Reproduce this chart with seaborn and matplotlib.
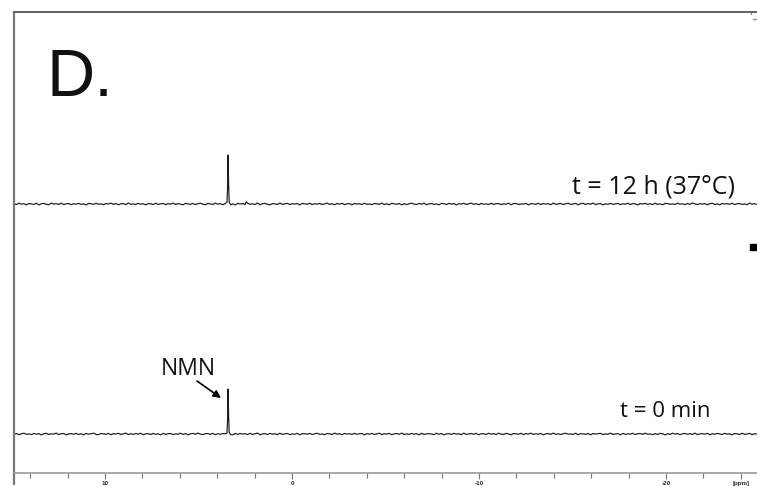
import numpy as np
import pandas as pd
import matplotlib
matplotlib.use("Agg")
import matplotlib.pyplot as plt
import seaborn as sns

# ---------------- data ----------------
ppm_range = (14.87, -24.87)          # x axis limits (ppm, reversed)
peak_ppm = [3.56, 3.48, 3.45, 3.42, 3.39, 3.36, 3.28]   # NMN signal sample positions
peak_12h = [0.6, 1.5, 14.0, 49.0, 20.0, 2.0, -0.8]      # intensity, t = 12 h
peak_0 = [0.3, 0.8, 12.0, 45.0, 18.0, 1.5, -0.6]        # intensity, t = 0 min
bump_ppm = [2.45]                     # small side bump in 12 h trace
bump_12h = [2.2]
offset_12h = 269                     # vertical offsets of stacked spectra
offset_0 = 39

noise_12h = [
    0.4, -0.6, 0.9, -0.2, 0.3, -0.8, 0.5, 0.1, -0.4, 0.7, -0.9, 0.2, 0.6, -0.3, -0.7, 0.8, -0.1, 0.4, -0.5, 0.9,
    -0.6, 0.2, 0.5, -0.8, 0.3, -0.2, 0.7, -0.4, 0.1, -0.9, 0.6, 0.3, -0.5, 0.8, -0.3, 0.2, -0.7, 0.5, -0.1, 0.9,
    -0.4, 0.6, -0.8, 0.2, 0.4, -0.6, 1.0, -0.3, 0.1, -0.5, 0.7, -0.2, 0.3, -0.9, 0.5, 0.2, -0.6, 0.8, -0.4, 0.1,
    0.6, -0.7, 0.3, -0.2, 0.9, -0.5, 0.4, -0.1, -0.8, 0.7, 0.2, -0.4, 0.5, -0.6, 0.3, 0.8, -0.3, -0.7, 0.6, 0.1,
    -0.5, 0.9, -0.2, 0.4, -0.8, 0.3, 0.6, -0.4, 0.2, -0.9, 0.7, -0.1, 0.5, -0.6, 0.8, -0.3, 0.2, -0.5, 1.0, -0.7,
    0.3, 0.6, -0.2, -0.8, 0.4, 0.1, -0.5, 0.9, -0.4, 0.2, 0.7, -0.6, 0.3, -0.1, 0.5, -0.9, 0.6, 0.2, -0.3, 0.8,
    -0.7, 0.4, -0.2, 0.6, -0.5, 0.1, 0.9, -0.4, 0.3, -0.8, 0.5, -0.2, 0.7, -0.6, 0.2, 0.4, -0.9, 0.6, -0.1, 0.3,
    -0.5, 0.8, -0.3, 0.1, -0.7, 0.5, 0.2, -0.4, 0.9, -0.6, 0.3, -0.8, 0.7, 0.1, -0.2, 0.5, -0.9, 0.4, -0.6, 0.2,
    0.8, -0.1, -0.5, 0.6, -0.3, 0.9, -0.7, 0.2, 0.4, -0.4, 0.1, -0.8, 0.6, 0.3, -0.6, 0.7, -0.2, 0.5, -0.9, 0.3,
    -0.1, 0.7, -0.5, 0.2, 0.9, -0.3, 0.4, -0.8, 0.6, -0.2, 0.1, -0.6, 0.8, -0.4, 0.3, 0.5, -0.7, 0.2, -0.3, 0.9,
    -0.8, 0.3, 0.6, -0.5, 0.1, -0.2, 0.7, -0.9, 0.4, 0.2, -0.4, 0.8, -0.6, 0.5, -0.1, 0.3, -0.7, 0.9, -0.3, 0.1,
    0.5, -0.6, 0.2, 0.8, -0.4, -0.1, 0.6, -0.8, 0.3, 0.7, -0.5, 0.4, -0.2, 0.9, -0.6, 0.1, 0.5, -0.9, 0.2, -0.3,
    0.7, -0.4, 0.1, 0.6, -0.7, 0.3, -0.2, 0.8, -0.5, 0.4, 0.2, -0.9, 0.5, -0.1, 0.7, -0.3, 0.3, -0.6, 0.9, -0.4,
    0.2, -0.8, 0.6, 0.4, -0.3, 0.1, -0.5, 0.8, -0.2, 0.3, -0.7, 0.6, -0.4, 0.9, 0.1, -0.6, 0.4, -0.2, 0.5, -0.8,
    0.3, 0.7, -0.5, 0.2, -0.9, 0.6, -0.1, 0.4, -0.3, 0.8, -0.6, 0.2, 0.5, -0.4, 0.1, -0.7, 0.9, -0.2, 0.3, -0.5,
]
noise_0 = [
    -0.3, 0.5, -0.7, 0.2, 0.8, -0.4, 0.1, -0.6, 0.6, -0.2, 0.4, -0.9, 0.3, 0.7, -0.5, 0.2, -0.1, 0.9, -0.6, 0.3,
    0.5, -0.8, 0.1, 0.4, -0.3, 0.7, -0.5, 0.2, -0.9, 0.6, -0.2, 0.3, 0.8, -0.4, -0.7, 0.5, 0.1, -0.3, 0.6, -0.8,
    0.4, -0.1, 0.7, -0.5, 0.2, 0.9, -0.6, 0.3, -0.4, 0.5, -0.2, 0.8, -0.7, 0.1, 0.4, -0.5, 0.6, -0.3, 0.2, -0.9,
    0.7, -0.4, 0.3, 0.5, -0.6, 0.1, -0.2, 0.8, -0.5, 0.4, -0.8, 0.2, 0.6, -0.3, 0.9, -0.1, -0.6, 0.3, 0.5, -0.4,
    0.7, -0.7, 0.2, -0.2, 0.4, -0.5, 0.8, 0.1, -0.9, 0.6, -0.3, 0.5, -0.1, 0.3, -0.6, 0.7, -0.4, 0.2, 0.9, -0.8,
    0.1, 0.4, -0.5, 0.6, -0.2, 0.3, -0.7, 0.8, -0.4, 0.2, 0.5, -0.6, 0.1, -0.3, 0.7, -0.9, 0.4, 0.3, -0.2, 0.6,
    -0.5, 0.2, 0.8, -0.4, 0.1, -0.7, 0.5, 0.3, -0.6, 0.9, -0.2, 0.4, -0.8, 0.6, -0.1, 0.3, -0.5, 0.7, -0.3, 0.2,
    0.5, -0.9, 0.4, -0.2, 0.6, -0.4, 0.1, 0.8, -0.6, 0.3, -0.1, 0.6, -0.7, 0.2, 0.5, -0.3, 0.9, -0.5, 0.1, -0.4,
    0.6, -0.2, 0.3, -0.8, 0.7, -0.5, 0.2, 0.4, -0.1, -0.6, 0.8, -0.3, 0.5, -0.9, 0.1, 0.4, -0.4, 0.7, -0.2, 0.3,
    -0.7, 0.9, -0.4, 0.1, 0.5, -0.3, 0.6, -0.8, 0.2, 0.3, -0.5, 0.7, -0.1, 0.4, -0.6, 0.8, -0.2, -0.4, 0.6, 0.1,
    -0.9, 0.5, 0.2, -0.3, 0.7, -0.6, 0.4, -0.1, 0.8, -0.5, 0.3, -0.2, 0.6, -0.8, 0.1, 0.5, -0.4, 0.9, -0.3, 0.2,
    -0.6, 0.4, 0.7, -0.2, 0.1, -0.5, 0.8, -0.7, 0.3, 0.2, -0.4, 0.6, -0.9, 0.5, -0.1, 0.3, 0.7, -0.6, 0.2, -0.3,
    0.9, -0.5, 0.1, 0.4, -0.8, 0.6, -0.3, 0.2, -0.1, 0.7, -0.6, 0.3, 0.5, -0.4, 0.8, -0.2, 0.1, -0.7, 0.4, -0.5,
    0.6, 0.2, -0.9, 0.3, -0.4, 0.8, -0.1, 0.5, -0.7, 0.2, 0.6, -0.3, 0.4, -0.5, 0.9, -0.6, 0.1, 0.3, -0.2, 0.7,
    -0.8, 0.4, -0.3, 0.6, 0.1, -0.5, 0.7, -0.2, 0.3, -0.9, 0.5, 0.2, -0.6, 0.8, -0.4, 0.1, 0.6, -0.7, 0.3, -0.1,
]

major_ticks = [10, 0, -10, -20, -24]
major_labels = ["10", "0", "-10", "-20", "[ppm]"]
minor_ticks = [14, 12, 8, 6, 4, 2, -2, -4, -6, -8, -12, -14, -16, -18, -22]

labels = ["t = 12 h (37°C)", "t = 0 min"]
panel_letter = "D."
peak_name = "NMN"


def build_trace(noise, peak_x, peak_y, extra_x=(), extra_y=()):
    grid = np.linspace(ppm_range[0], ppm_range[1], len(noise))
    keep = (grid > max(peak_x) + 0.05) | (grid < min(peak_x) - 0.05)
    xs = list(grid[keep]) + list(peak_x) + list(extra_x)
    ys = list(np.array(noise)[keep]) + list(peak_y) + list(extra_y)
    df = pd.DataFrame({"ppm": xs, "intensity": ys}).sort_values("ppm", ascending=False)
    return df


df12 = build_trace(noise_12h, peak_ppm, peak_12h, bump_ppm, bump_12h)
df12["intensity"] += offset_12h
df0 = build_trace(noise_0, peak_ppm, peak_0)
df0["intensity"] += offset_0

# ---------------- figure ----------------
sns.set_theme(style="white")
plt.rcParams["font.family"] = ["Liberation Sans", "DejaVu Sans"]

fig = plt.figure(figsize=(7.57, 4.86), dpi=100)
ax = fig.add_axes([14 / 757, 13 / 486, 743 / 757, 461 / 486])

sns.lineplot(data=df12, x="ppm", y="intensity", ax=ax, sort=False, estimator=None,
             color="#1a1a1a", lw=0.85)
sns.lineplot(data=df0, x="ppm", y="intensity", ax=ax, sort=False, estimator=None,
             color="#1a1a1a", lw=0.85)

ax.set_xlim(*ppm_range)
ax.set_ylim(0, 461)
ax.set_xlabel("")
ax.set_ylabel("")
ax.set_yticks([])

ax.set_xticks(major_ticks)
ax.set_xticklabels(major_labels, fontsize=4.5, fontweight="bold", color="#222222")
ax.set_xticks(minor_ticks, minor=True)
ax.tick_params(axis="x", which="major", direction="out", length=4.5, width=0.8,
               color="#777777", pad=1.5, bottom=True)
ax.tick_params(axis="x", which="minor", direction="out", length=3.5, width=0.8,
               color="#777777", bottom=True)

for side in ["top", "bottom"]:
    ax.spines[side].set_visible(True)
ax.spines["right"].set_visible(False)
ax.spines["left"].set_visible(False)
ax.spines["top"].set_color("#555555")
ax.spines["top"].set_linewidth(1.3)
ax.spines["bottom"].set_color("#999999")
ax.spines["bottom"].set_linewidth(1.2)
ax.plot([0, 0], [-0.025, 1], transform=ax.transAxes, color="#777777", lw=1.6,
        clip_on=False, solid_capstyle="butt")

# texts
fig.text(46 / 757, 1 - 96 / 486, panel_letter, fontsize=48, color="#111111",
         family=["Liberation Sans", "DejaVu Sans"], ha="left", va="baseline")
fig.text(735 / 757, 1 - 193 / 486, labels[0], fontsize=18, color="#111111",
         family=["Open Sans", "DejaVu Sans"], ha="right", va="baseline")
fig.text(710 / 757, 1 - 417 / 486, labels[1], fontsize=16, color="#111111",
         family=["Open Sans", "DejaVu Sans"], ha="right", va="baseline")
ax.text(5.56, 98, peak_name, fontsize=16.5, color="#111111",
        family=["Open Sans", "DejaVu Sans"], ha="center", va="baseline")
ax.annotate("", xy=(3.80, 75), xytext=(5.08, 92),
            arrowprops=dict(arrowstyle="-|>", color="black", lw=1.2,
                            mutation_scale=11, shrinkA=0, shrinkB=0))

# small edge marks
ax.plot([0.992, 0.992], [1.0, 0.995], transform=ax.transAxes, color="#888888", lw=1, clip_on=False)
ax.plot([0.994, 1.0], [0.985, 0.985], transform=ax.transAxes, color="#888888", lw=1, clip_on=False)
ax.plot([0.994], [0.491], transform=ax.transAxes, marker="s", ms=5, color="black", clip_on=False)

fig.savefig("out.png", dpi=100)
